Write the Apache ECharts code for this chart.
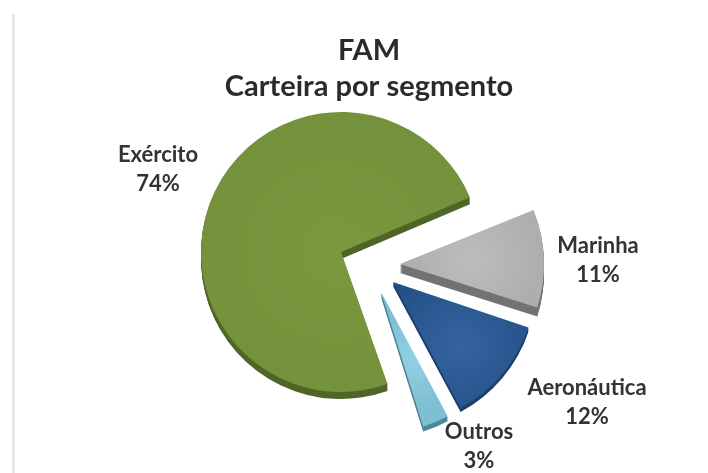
<!DOCTYPE html>
<html>
<head>
<meta charset="utf-8">
<style>
html, body { margin: 0; padding: 0; background: #fff; }
#chart { width: 708px; height: 473px; }
</style>
<script src="https://cdn.jsdelivr.net/npm/echarts@6/dist/echarts.min.js"></script>
</head>
<body>
<div id="chart"></div>
<script>
const categories = ['Marinha', 'Aeronáutica', 'Outros', 'Exército'];
const values = [11, 12, 3, 74];

// layout of each exploded slice: tip, radius, side depth, label centre
const tips = [[400, 264], [393, 282], [381, 292], [341, 252]];
const radii = [144, 143, 141, 140];
const depths = [9, 4, 5, 7];
const labelSpots = [[598, 260], [587, 402], [479, 446], [158, 169]];
const angleNudge = [1, 0, 0, 2];
const topColors = [
    ['#bdbdbd', '#aeaeae'],
    ['#34649f', '#244e86'],
    ['#93d0e3', '#7fbfd4'],
    ['#7a983f', '#72903a']
];
const sideColors = ['#737373', '#1d3f6c', '#4d8798', '#4f6628'];

const total = values.reduce((a, b) => a + b, 0);
const firstAngle = 21;

const series = [];
let cursor = firstAngle;
categories.forEach((name, i) => {
    const span = values[i] / total * 360;
    const startAngle = cursor + angleNudge[i];
    const endAngle = cursor - span + angleNudge[i];
    cursor -= span;

    // side of the slice, stacked copies shifted downward
    for (let d = depths[i]; d > 0; d--) {
        series.push({
            type: 'pie',
            silent: true,
            center: [tips[i][0], tips[i][1] + d],
            radius: [0, radii[i]],
            startAngle,
            endAngle,
            label: { show: false },
            labelLine: { show: false },
            itemStyle: { color: sideColors[i] },
            data: [{ name, value: values[i] }]
        });
    }

    series.push({
        type: 'pie',
        silent: true,
        center: tips[i],
        radius: [0, radii[i]],
        startAngle,
        endAngle,
        itemStyle: {
            color: {
                type: 'radial', x: 0.5, y: 0.5, r: 0.7,
                colorStops: [
                    { offset: 0, color: topColors[i][0] },
                    { offset: 1, color: topColors[i][1] }
                ]
            }
        },
        label: {
            show: true,
            position: 'outside',
            formatter: '{b}\n{c}%',
            fontFamily: 'Lato',
            fontWeight: 'bold',
            fontSize: 22,
            lineHeight: 29,
            color: '#333333',
            align: 'center'
        },
        labelLine: { show: false },
        labelLayout: {
            x: labelSpots[i][0],
            y: labelSpots[i][1],
            align: 'center',
            verticalAlign: 'middle',
            hideOverlap: false
        },
        data: [{ name, value: values[i] }]
    });
});

const myChart = echarts.init(document.getElementById('chart'));
myChart.setOption({
    animation: false,
    backgroundColor: '#ffffff',
    title: {
        text: 'FAM\nCarteira por segmento',
        left: 364,
        top: 28,
        textAlign: 'center',
        textStyle: {
            fontFamily: 'Lato',
            fontWeight: 'bold',
            fontSize: 29,
            lineHeight: 36,
            color: '#2b2b2b'
        }
    },
    graphic: [{
        type: 'rect',
        shape: { x: 12, y: 14, width: 3, height: 459 },
        style: { fill: '#e6e6e6' }
    }],
    series
});
</script>
</body>
</html>
